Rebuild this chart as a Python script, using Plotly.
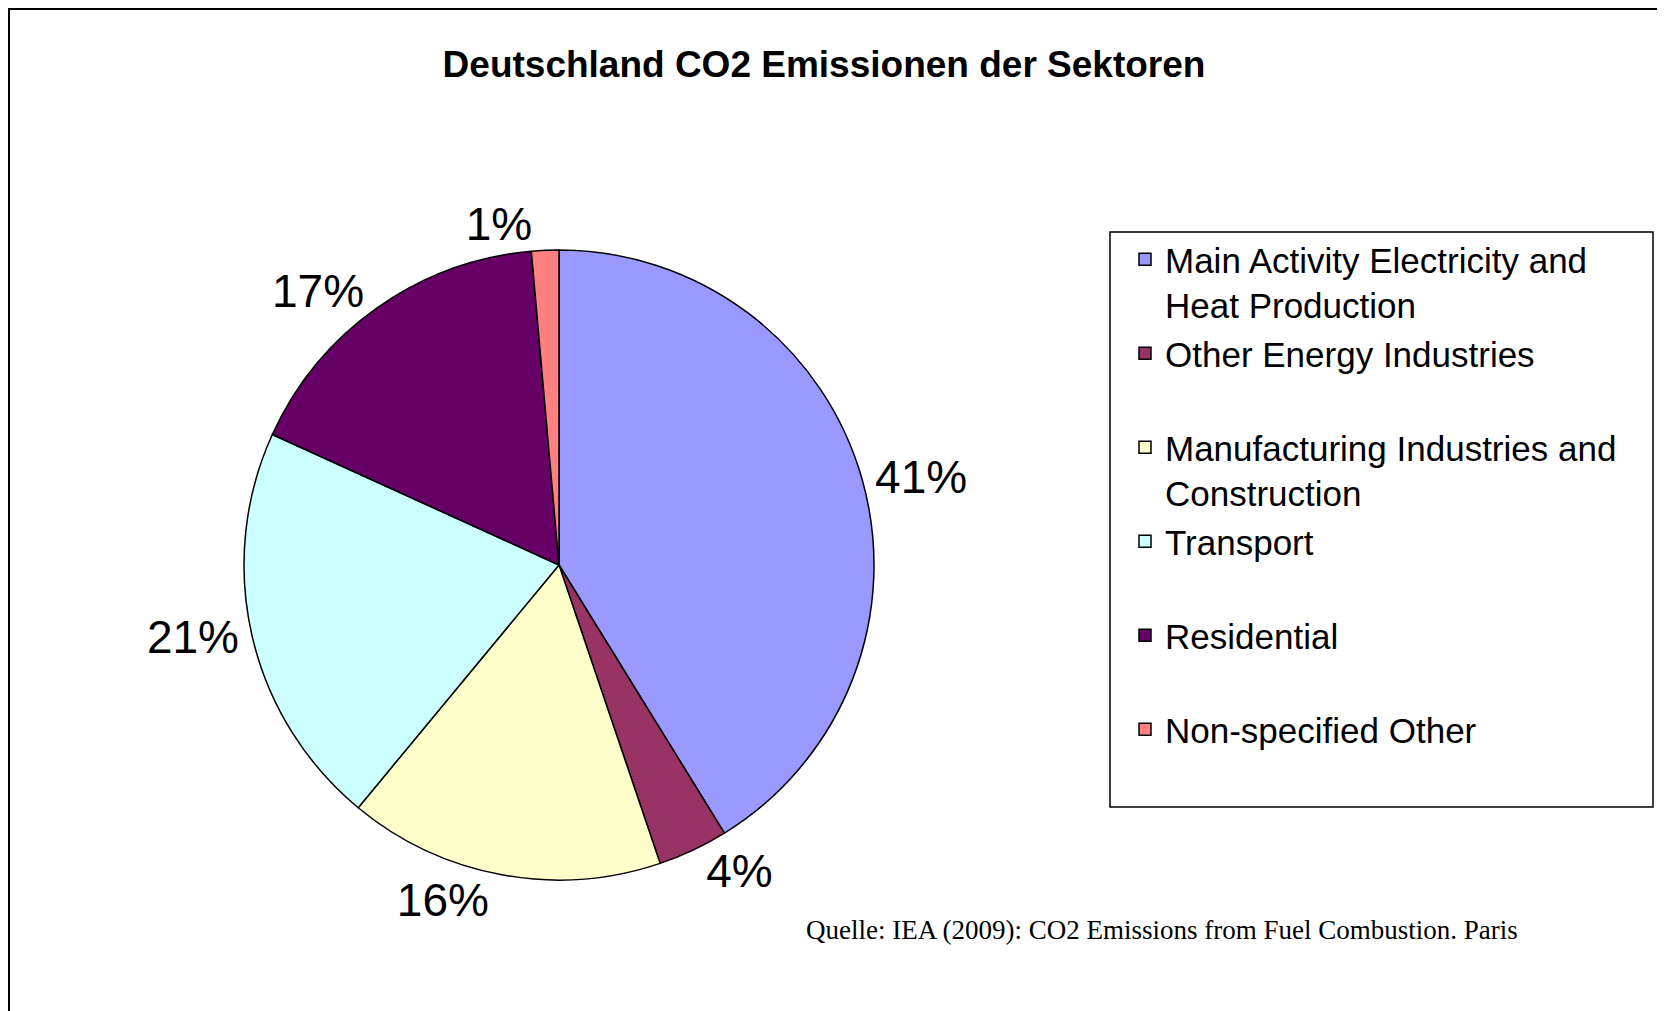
import plotly.graph_objects as go

# sector shares of German CO2 emissions (percent)
sectors = [
    "Main Activity Electricity and<br>Heat Production",
    "Other Energy Industries<br> ",
    "Manufacturing Industries and<br>Construction",
    "Transport<br> ",
    "Residential<br> ",
    "Non-specified Other<br> ",
]
shares = [41.2, 3.6, 16.2, 20.8, 16.8, 1.4]
colors = ["#9999FF", "#993366", "#FFFFCC", "#CCFFFF", "#660066", "#FF8080"]

# the page body has an 8px margin, so the figure is a bit smaller than the window
W, H = 1657, 1003
OFF = 8


def fx(x):
    # page pixel -> paper x
    return (x - OFF) / W


def fy(y):
    # page pixel -> paper y
    return 1 - (y - OFF) / H


SANS = "Liberation Sans, Arial, sans-serif"
cx, cy, r = 559, 565, 315

fig = go.Figure(
    go.Pie(
        labels=sectors,
        values=shares,
        sort=False,
        direction="clockwise",
        rotation=0,
        marker=dict(colors=colors, line=dict(color="black", width=1.5)),
        textposition="outside",
        texttemplate="%{percent:.0%}",
        textfont=dict(family=SANS, size=46, color="black"),
        domain=dict(x=[fx(cx - r), fx(cx + r)], y=[fy(cy + r), fy(cy - r)]),
        hoverinfo="label+percent",
    )
)

fig.update_layout(
    width=W,
    height=H,
    margin=dict(l=0, r=0, t=0, b=0),
    paper_bgcolor="white",
    plot_bgcolor="white",
    title=dict(
        text="<b>Deutschland CO2 Emissionen der Sektoren</b>",
        x=fx(824),
        xanchor="center",
        y=fy(64),
        yanchor="middle",
        font=dict(family=SANS, size=37, color="black"),
    ),
    legend=dict(
        x=fx(1125),
        xanchor="left",
        y=fy(230),
        yanchor="top",
        valign="top",
        font=dict(family=SANS, size=35, color="black"),
        borderwidth=0,
        bgcolor="rgba(0,0,0,0)",
    ),
    annotations=[
        dict(
            text="Quelle: IEA (2009): CO2 Emissions from Fuel Combustion. Paris",
            xref="paper",
            yref="paper",
            x=fx(804),
            y=fy(930),
            xanchor="left",
            yanchor="middle",
            showarrow=False,
            font=dict(family="Liberation Serif, Times New Roman, serif", size=27, color="black"),
        )
    ],
    shapes=[
        # outer frame
        dict(type="rect", xref="paper", yref="paper",
             x0=1 / W, x1=fx(1663), y0=-0.05, y1=1 - 1 / H,
             line=dict(color="black", width=2)),
        # legend box
        dict(type="rect", xref="paper", yref="paper",
             x0=fx(1110), x1=fx(1653), y0=fy(807), y1=fy(232),
             line=dict(color="black", width=1.5)),
    ],
)

fig.write_html("out.html")
